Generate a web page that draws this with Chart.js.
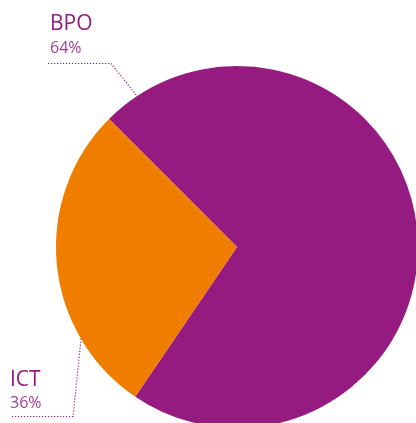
<!DOCTYPE html>
<html>
<head>
<meta charset="utf-8">
<script src="https://cdn.jsdelivr.net/npm/chart.js@4"></script>
<style>
    html, body { margin: 0; padding: 0; background: #ffffff; overflow: hidden; }
    #wrap { position: relative; width: 418px; height: 428px; }
</style>
</head>
<body>
<div id="wrap"><canvas id="pieChart" width="418" height="428"></canvas></div>
<script>
// Data
const categories = ["BPO", "ICT"];
const shares = [72, 28];            // slice sizes as drawn
const shareLabels = ["64%", "36%"]; // percentages printed next to the pie

const purple = "#951b80";
const orange = "#ef7d00";

// Label text + dotted leader lines (anchor angles in degrees, clockwise from top)
const calloutPlugin = {
    id: "callouts",
    afterDatasetsDraw(chart) {
        const ctx = chart.ctx;
        const arc = chart.getDatasetMeta(0).data[0];
        const cx = arc.x, cy = arc.y, r = arc.outerRadius;
        const onRim = deg => {
            const a = (deg - 90) * Math.PI / 180;
            return [cx + r * Math.cos(a), cy + r * Math.sin(a)];
        };

        const callouts = [
            { name: categories[0], pct: shareLabels[0], x: 50, nameY: 30, pctY: 53,
              line: [[48, 63.5], [111, 63.5]], angle: 326.5 },
            { name: categories[1], pct: shareLabels[1], x: 10, nameY: 386, pctY: 408,
              line: [[12, 416.5], [73, 416.5]], angle: 239.5 }
        ];

        ctx.save();
        callouts.forEach(c => {
            ctx.fillStyle = purple;
            ctx.textBaseline = "alphabetic";
            ctx.font = "21px 'Open Sans'";
            ctx.fillText(c.name, c.x, c.nameY);
            ctx.fillStyle = "#a23d8f";
            ctx.font = "16px 'Open Sans'";
            ctx.fillText(c.pct, c.x, c.pctY);

            const end = onRim(c.angle);
            ctx.strokeStyle = purple;
            ctx.lineWidth = 1.2;
            ctx.setLineDash([1.2, 1.8]);
            ctx.beginPath();
            ctx.moveTo(c.line[0][0], c.line[0][1]);
            ctx.lineTo(c.line[1][0], c.line[1][1]);
            ctx.lineTo(end[0], end[1]);
            ctx.stroke();
        });
        ctx.restore();
    }
};

new Chart(document.getElementById("pieChart"), {
    type: "pie",
    data: {
        labels: categories,
        datasets: [{
            data: shares,
            backgroundColor: [purple, orange],
            borderWidth: 0
        }]
    },
    options: {
        responsive: false,
        animation: false,
        rotation: -45,
        layout: { padding: { left: 56, top: 66, right: 0, bottom: 0 } },
        plugins: {
            legend: { display: false },
            tooltip: { enabled: false }
        }
    },
    plugins: [calloutPlugin]
});
</script>
</body>
</html>
